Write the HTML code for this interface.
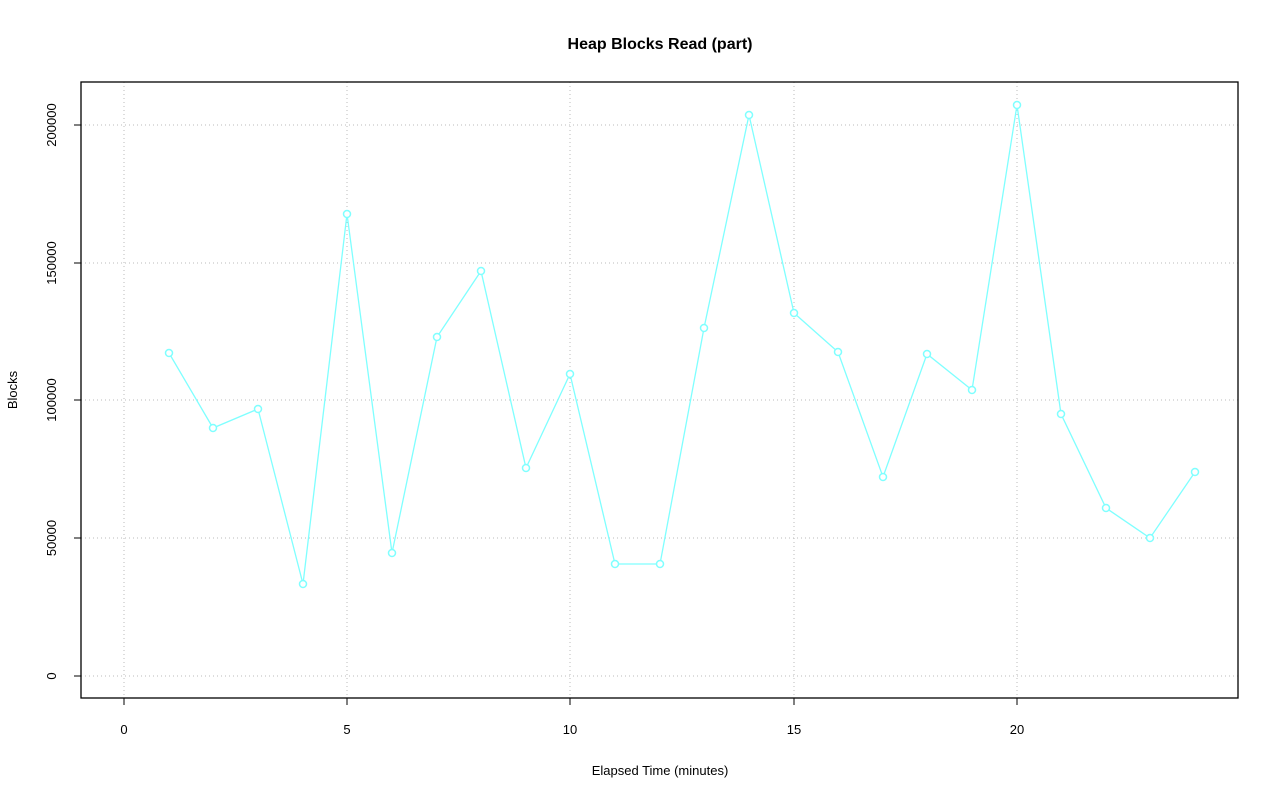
<!DOCTYPE html>
<html><head><meta charset="utf-8"><style>body{margin:0;background:#fff}svg{display:block}</style></head><body>
<svg width="1280" height="801" xmlns="http://www.w3.org/2000/svg" font-family="Liberation Sans, sans-serif">
<rect width="1280" height="801" fill="#fff"/>
<g stroke="#bbb" stroke-width="1" stroke-dasharray="1,3">
<line x1="124" y1="82" x2="124" y2="698"/><line x1="347" y1="82" x2="347" y2="698"/><line x1="570" y1="82" x2="570" y2="698"/><line x1="794" y1="82" x2="794" y2="698"/><line x1="1017" y1="82" x2="1017" y2="698"/>
<line x1="81" y1="676" x2="1238" y2="676"/><line x1="81" y1="538" x2="1238" y2="538"/><line x1="81" y1="400" x2="1238" y2="400"/><line x1="81" y1="263" x2="1238" y2="263"/><line x1="81" y1="125" x2="1238" y2="125"/>
</g>
<polyline fill="none" stroke="#7fffff" stroke-width="1.3" points="169,353 213,428 258,409 303,584 347,214 392,553 437,337 481,271 526,468 570,374 615,564 660,564 704,328 749,115 794,313 838,352 883,477 927,354 972,390 1017,105 1061,414 1106,508 1150,538 1195,472"/>
<g fill="#fff" stroke="#7fffff" stroke-width="1.5">
<circle cx="169" cy="353" r="3.5"/><circle cx="213" cy="428" r="3.5"/><circle cx="258" cy="409" r="3.5"/><circle cx="303" cy="584" r="3.5"/><circle cx="347" cy="214" r="3.5"/><circle cx="392" cy="553" r="3.5"/><circle cx="437" cy="337" r="3.5"/><circle cx="481" cy="271" r="3.5"/><circle cx="526" cy="468" r="3.5"/><circle cx="570" cy="374" r="3.5"/><circle cx="615" cy="564" r="3.5"/><circle cx="660" cy="564" r="3.5"/><circle cx="704" cy="328" r="3.5"/><circle cx="749" cy="115" r="3.5"/><circle cx="794" cy="313" r="3.5"/><circle cx="838" cy="352" r="3.5"/><circle cx="883" cy="477" r="3.5"/><circle cx="927" cy="354" r="3.5"/><circle cx="972" cy="390" r="3.5"/><circle cx="1017" cy="105" r="3.5"/><circle cx="1061" cy="414" r="3.5"/><circle cx="1106" cy="508" r="3.5"/><circle cx="1150" cy="538" r="3.5"/><circle cx="1195" cy="472" r="3.5"/>
</g>
<rect x="81" y="82" width="1157" height="616" fill="none" stroke="#000" stroke-width="1.3"/>
<g stroke="#000"><line x1="124" y1="698" x2="124" y2="705"/><line x1="347" y1="698" x2="347" y2="705"/><line x1="570" y1="698" x2="570" y2="705"/><line x1="794" y1="698" x2="794" y2="705"/><line x1="1017" y1="698" x2="1017" y2="705"/>
<line x1="74" y1="676" x2="81" y2="676"/><line x1="74" y1="538" x2="81" y2="538"/><line x1="74" y1="400" x2="81" y2="400"/><line x1="74" y1="263" x2="81" y2="263"/><line x1="74" y1="125" x2="81" y2="125"/></g>
<g font-size="13" text-anchor="middle" fill="#000">
<text x="124" y="734">0</text><text x="347" y="734">5</text><text x="570" y="734">10</text><text x="794" y="734">15</text><text x="1017" y="734">20</text>
<text transform="translate(56,676) rotate(-90)">0</text><text transform="translate(56,538) rotate(-90)">50000</text><text transform="translate(56,400) rotate(-90)">100000</text><text transform="translate(56,263) rotate(-90)">150000</text><text transform="translate(56,125) rotate(-90)">200000</text>
<text x="660" y="775">Elapsed Time (minutes)</text>
<text transform="translate(17,390) rotate(-90)">Blocks</text>
<text x="660" y="49" font-size="16" font-weight="bold">Heap Blocks Read (part)</text>
</g>
</svg>
</body></html>
